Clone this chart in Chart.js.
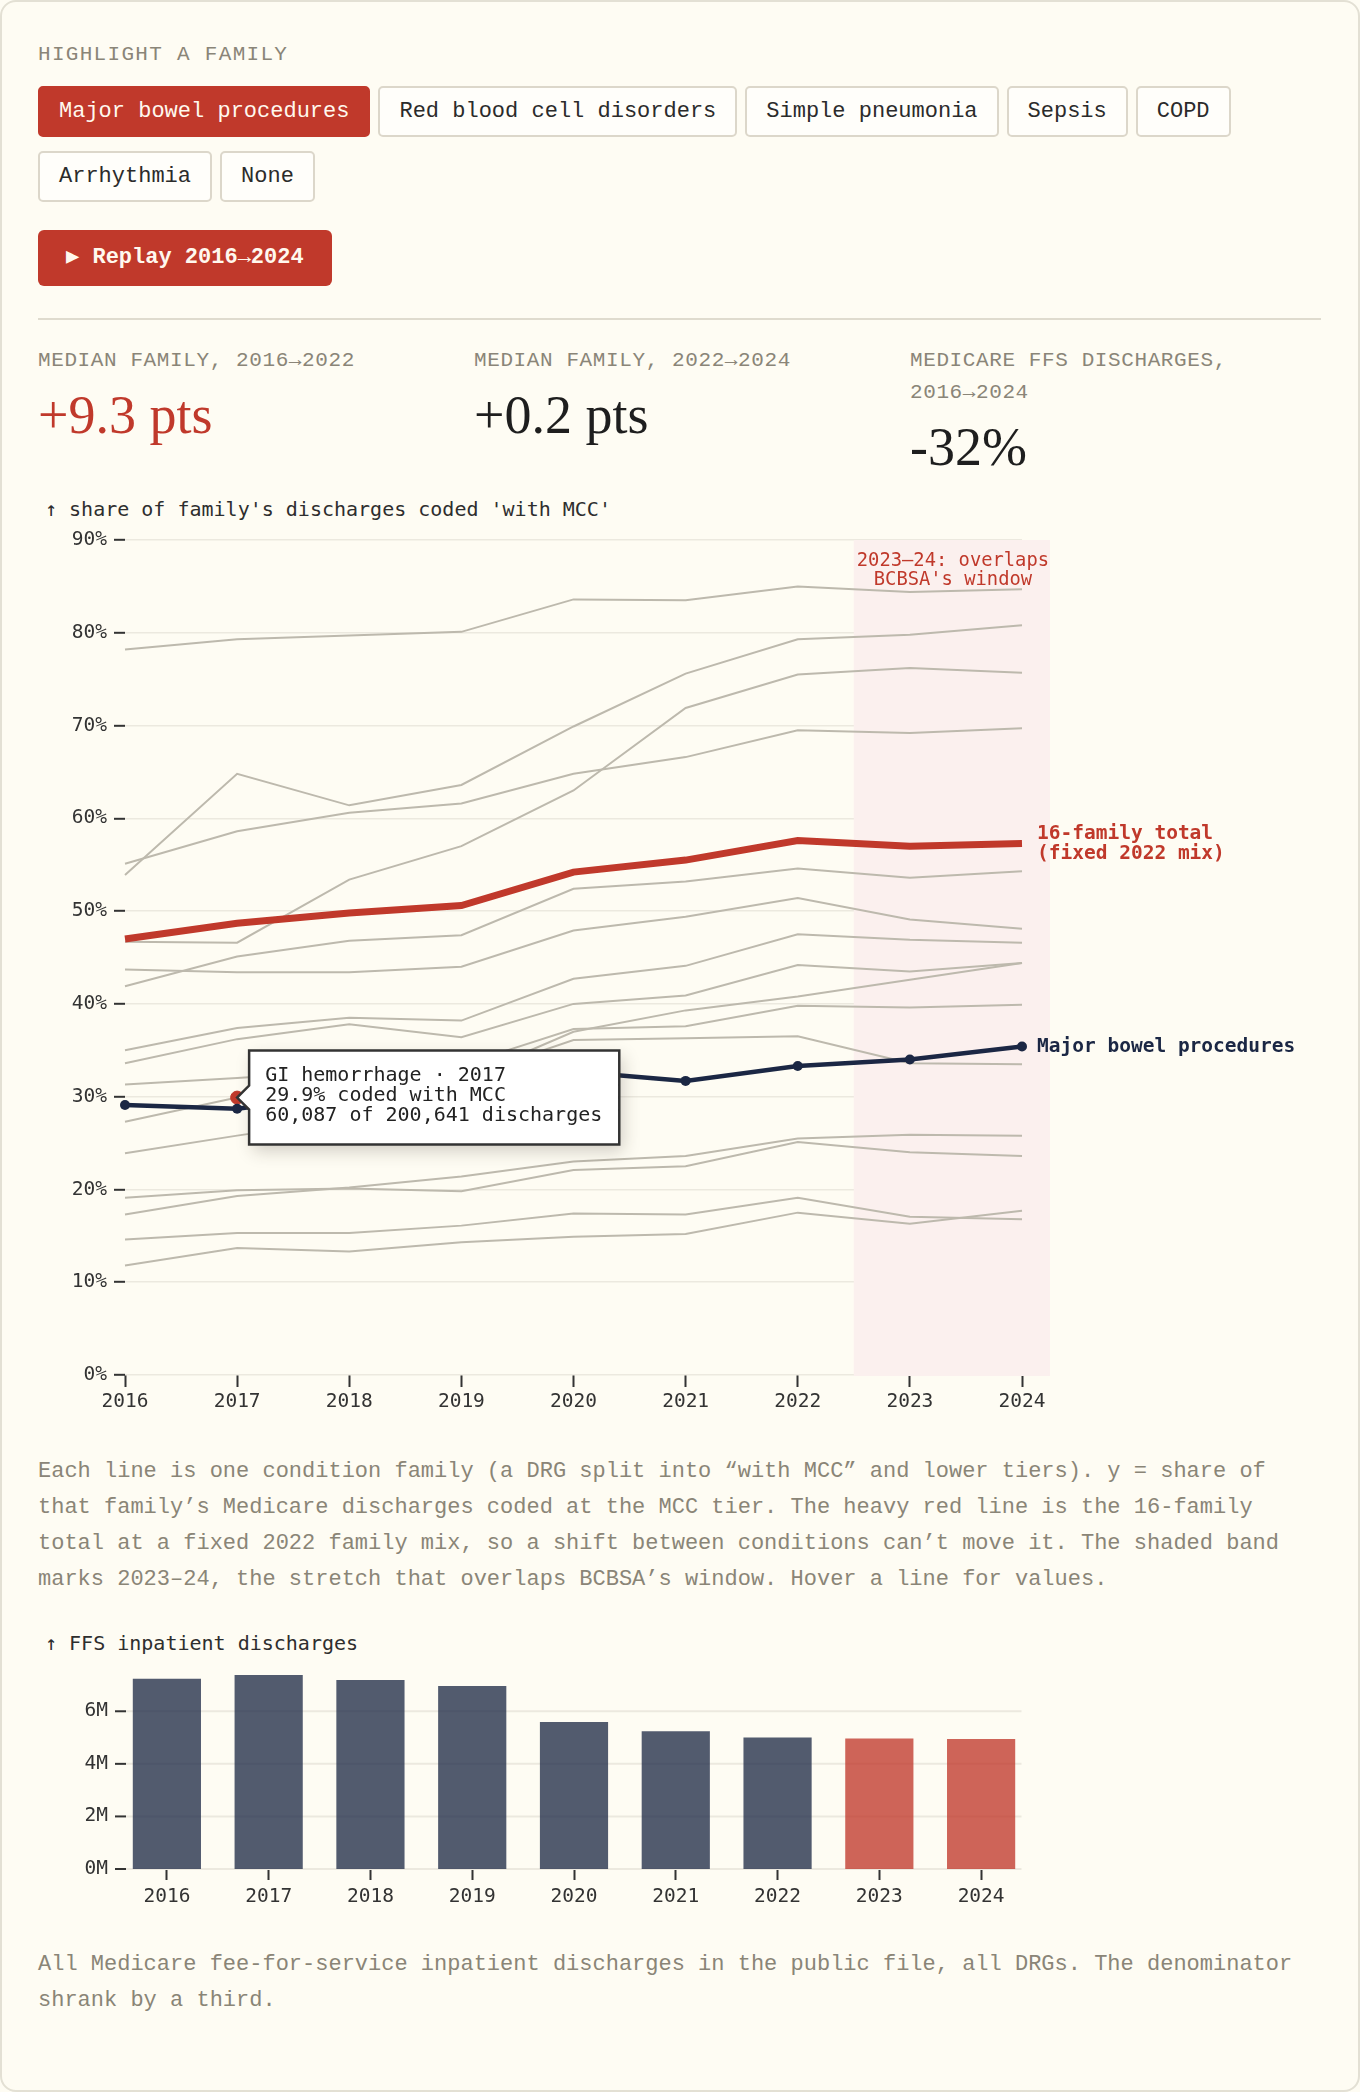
<!DOCTYPE html>
<html><head><meta charset="utf-8">
<script src="https://cdn.jsdelivr.net/npm/chart.js@4.4.1/dist/chart.umd.min.js"></script>
<style>
html,body{margin:0;padding:0;background:#fefcf3;}
body{width:1360px;height:2092px;position:relative;overflow:hidden;}
.card{position:absolute;left:0;top:0;width:1360px;height:2092px;box-sizing:border-box;border:2px solid #e3e0d4;border-radius:16px;background:#fefcf3;}
.abs{position:absolute;}
.kicker{font-family:"Liberation Mono",monospace;font-size:21px;letter-spacing:1.3px;color:#8a8578;line-height:28px;white-space:nowrap;}
.btns{display:flex;flex-wrap:wrap;column-gap:8px;row-gap:14px;width:1283px;}
.btn{font-family:"Liberation Mono",monospace;font-size:22px;line-height:27px;padding:10px 19px;border:2px solid #dcd7ca;border-radius:5px;background:#fffefa;color:#2b2b2b;white-space:nowrap;}
.btn.on{background:#c0392b;border-color:#c0392b;color:#fff8ee;}
.replay{font-family:"Liberation Mono",monospace;font-weight:bold;font-size:22px;line-height:56px;height:56px;padding:0 28px;background:#c0392b;color:#fff8ee;border-radius:6px;white-space:nowrap;}
.rule{height:2px;background:#dfdbce;}
.stat{width:411px;}
.stat .lab{font-family:"Liberation Mono",monospace;font-size:21px;letter-spacing:0.6px;line-height:32px;color:#8a8578;}
.stat .val{font-family:"Liberation Serif",serif;font-size:54px;line-height:60px;margin-top:8px;color:#1e1e1e;}
.stat .val.red{color:#c0392b;}
.ctitle{font-family:"DejaVu Sans Mono",monospace;font-size:20px;line-height:24px;color:#2e2e2e;white-space:nowrap;}
.para{font-family:"Liberation Mono",monospace;font-size:22px;line-height:36px;color:#8a8577;width:1283px;}
</style></head>
<body>
<div class="card"></div>
<div class="abs kicker" style="left:38px;top:41px;">HIGHLIGHT A FAMILY</div>
<div class="abs btns" id="btns" style="left:38px;top:86px;"></div>
<div class="abs replay" style="left:38px;top:230px;">▶ Replay 2016→2024</div>
<div class="abs rule" style="left:38px;top:318px;width:1283px;"></div>
<div class="abs stat" style="left:38px;top:345px;"><div class="lab">MEDIAN FAMILY, 2016→2022</div><div class="val red">+9.3 pts</div></div>
<div class="abs stat" style="left:474px;top:345px;"><div class="lab">MEDIAN FAMILY, 2022→2024</div><div class="val">+0.2 pts</div></div>
<div class="abs stat" style="left:910px;top:345px;"><div class="lab">MEDICARE FFS DISCHARGES, 2016→2024</div><div class="val">-32%</div></div>
<div class="abs ctitle" style="left:45px;top:497px;">↑ share of family's discharges coded 'with MCC'</div>
<canvas id="lines" class="abs" style="left:0;top:520px;width:1358px;height:900px;" width="1358" height="900"></canvas>
<div class="abs para" style="left:38px;top:1454px;">Each line is one condition family (a DRG split into “with MCC” and lower tiers). y = share of that family’s Medicare discharges coded at the MCC tier. The heavy red line is the 16-family total at a fixed 2022 family mix, so a shift between conditions can’t move it. The shaded band marks 2023–24, the stretch that overlaps BCBSA’s window. Hover a line for values.</div>
<div class="abs ctitle" style="left:45px;top:1631px;">↑ FFS inpatient discharges</div>
<canvas id="bars" class="abs" style="left:0;top:1655px;width:1358px;height:260px;" width="1358" height="260"></canvas>
<div class="abs para" style="left:38px;top:1947px;">All Medicare fee-for-service inpatient discharges in the public file, all DRGs. The denominator shrank by a third.</div>
<script>
// ---------- data ----------
const years = ['2016','2017','2018','2019','2020','2021','2022','2023','2024'];
const familyButtons = ['Major bowel procedures','Red blood cell disorders','Simple pneumonia','Sepsis','COPD','Arrhythmia','None'];
const highlighted = 'Major bowel procedures';
const windowYears = ['2023','2024'];

// share of family's discharges coded "with MCC" (%)
const majorBowel   = [29.1, 28.7, 30.2, 30.6, 32.7, 31.7, 33.3, 34.0, 35.4];
const totalFixed   = [47.0, 48.7, 49.8, 50.6, 54.2, 55.5, 57.6, 57.0, 57.3];
const giHemorrhage = [27.3, 29.9, 30.6, 31.8, 37.0, 39.3, 40.8, 42.6, 44.4];
const family01 = [78.2, 79.3, 79.7, 80.1, 83.6, 83.5, 85.0, 84.4, 84.7];
const family02 = [53.9, 64.8, 61.4, 63.6, 69.9, 75.6, 79.3, 79.8, 80.8];
const family03 = [55.1, 58.6, 60.6, 61.6, 64.8, 66.6, 69.5, 69.2, 69.7];
const family04 = [46.7, 46.6, 53.4, 57.0, 63.0, 71.9, 75.5, 76.2, 75.7];
const family05 = [41.9, 45.1, 46.8, 47.4, 52.4, 53.2, 54.6, 53.6, 54.3];
const family06 = [43.7, 43.4, 43.4, 44.0, 47.9, 49.4, 51.4, 49.1, 48.1];
const family07 = [35.0, 37.4, 38.5, 38.2, 42.7, 44.1, 47.5, 46.9, 46.6];
const family08 = [33.6, 36.2, 37.8, 36.4, 40.0, 40.9, 44.2, 43.5, 44.4];
const family09 = [31.3, 32.0, 32.8, 33.4, 37.3, 37.6, 39.8, 39.6, 39.9];
const family10 = [23.9, 25.8, 27.6, 32.0, 36.1, 36.3, 36.5, 33.6, 33.5];
const family11 = [17.3, 19.3, 20.2, 21.4, 23.0, 23.6, 25.5, 25.9, 25.8];
const family12 = [19.1, 19.9, 20.1, 19.8, 22.1, 22.5, 25.1, 24.0, 23.6];
const family13 = [14.6, 15.3, 15.3, 16.1, 17.4, 17.3, 19.1, 17.05, 16.8];
const family14 = [11.8, 13.7, 13.3, 14.3, 14.9, 15.2, 17.5, 16.3, 17.7];
const otherFamilies = [family01,family02,family03,family04,family05,family06,family07,family08,family09,family10,family11,family12,family13,family14];

// hovered point shown in the tooltip
const hoverFamily = 'GI hemorrhage';
const hoverYear = '2017';
const hoverMccCount = 60087;
const hoverDischarges = 200641;

// FFS inpatient discharges (millions)
const discharges = [7.24, 7.38, 7.19, 6.96, 5.59, 5.24, 5.00, 4.96, 4.95];
const dischargeTicks = [0, 2, 4, 6];

// ---------- buttons ----------
const bw = document.getElementById('btns');
familyButtons.forEach(n => { const d = document.createElement('div'); d.className = 'btn' + (n === highlighted ? ' on' : ''); d.textContent = n; bw.appendChild(d); });

// ---------- chart defaults ----------
Chart.defaults.font.family = '"DejaVu Sans Mono", monospace';
Chart.defaults.font.size = 19.5;
Chart.defaults.color = '#333';

const RED = '#c0392b', NAVY = '#1b2744', GRAY = '#bdb9ad';

const datasets = [
  { label: highlighted, data: majorBowel, borderColor: NAVY, backgroundColor: NAVY, borderWidth: 4.5, pointRadius: 5, pointBackgroundColor: NAVY, pointBorderWidth: 0, order: 0 },
  { label: '16-family total', data: totalFixed, borderColor: RED, borderWidth: 7, pointRadius: 0, order: 1 },
  { label: hoverFamily, data: giHemorrhage, borderColor: GRAY, borderWidth: 2, pointRadius: 0, pointHoverRadius: 6.5, pointHoverBackgroundColor: RED, pointHoverBorderColor: RED, pointHoverBorderWidth: 1, order: 2 }
];
otherFamilies.forEach((d, i) => datasets.push({ label: 'Family ' + (i + 1), data: d, borderColor: GRAY, borderWidth: 2, pointRadius: 0, order: 2 }));

const bandPlugin = {
  id: 'band',
  beforeDatasetsDraw(chart) {
    const { ctx, chartArea: a, scales: { x } } = chart;
    const x0 = x.getPixelForValue(years.indexOf(windowYears[0]) - 0.5);
    const x1 = x.getPixelForValue(years.length - 1 + 0.25);
    ctx.save();
    ctx.fillStyle = '#fbf0ee';
    ctx.fillRect(x0, a.top, x1 - x0, a.bottom - a.top + 1);
    ctx.restore();
  },
  afterDatasetsDraw(chart) {
    const { ctx, chartArea: a, scales: { x } } = chart;
    const x0 = x.getPixelForValue(years.indexOf(windowYears[0]) - 0.5);
    const x1 = x.getPixelForValue(years.length - 1 + 0.25);
    ctx.save();
    ctx.fillStyle = RED;
    ctx.font = '18.8px "DejaVu Sans Mono", monospace';
    ctx.textAlign = 'center'; ctx.textBaseline = 'middle';
    const cx = (x0 + x1) / 2 + 1;
    ctx.fillText('2023–24: overlaps', cx, a.top + 21);
    ctx.fillText("BCBSA's window", cx, a.top + 40);
    // end labels
    const last = years.length - 1;
    const tp = chart.getDatasetMeta(1).data[last];
    const np = chart.getDatasetMeta(0).data[last];
    ctx.textAlign = 'left';
    ctx.font = 'bold 19.5px "DejaVu Sans Mono", monospace';
    ctx.fillText('16-family total', a.right + 15, tp.y - 9);
    ctx.fillText('(fixed 2022 mix)', a.right + 15, tp.y + 11);
    ctx.fillStyle = NAVY;
    ctx.fillText(highlighted, a.right + 15, np.y);
    ctx.restore();
  },
  beforeTooltipDraw(chart, args) {
    const t = args.tooltip, ctx = chart.ctx;
    ctx.save();
    ctx.shadowColor = 'rgba(50,40,30,0.22)';
    ctx.shadowBlur = 16; ctx.shadowOffsetX = 4; ctx.shadowOffsetY = 6;
    ctx.fillStyle = '#fff';
    ctx.fillRect(t.x, t.y, t.width, t.height);
    ctx.restore();
  }
};

const lineChart = new Chart(document.getElementById('lines'), {
  type: 'line',
  data: { labels: years, datasets },
  plugins: [bandPlugin],
  options: {
    responsive: false, animation: false, events: [],
    layout: { padding: { left: 0, right: 336, top: 20, bottom: 0 }, autoPadding: false },
    plugins: {
      legend: { display: false },
      tooltip: {
        enabled: true, xAlign: 'left', yAlign: 'center', caretSize: 12, caretPadding: 0, cornerRadius: 0,
        backgroundColor: '#ffffff', borderColor: '#333333', borderWidth: 2.5, displayColors: false,
        titleColor: '#222', bodyColor: '#222',
        titleFont: { family: '"DejaVu Sans Mono", monospace', size: 20, weight: 'normal', lineHeight: 1 },
        bodyFont: { family: '"DejaVu Sans Mono", monospace', size: 20, weight: 'normal', lineHeight: 1 },
        titleMarginBottom: 0, titleSpacing: 0, bodySpacing: 0,
        padding: { top: 15, right: 17, bottom: 19, left: 16 },
        filter: item => item.dataset.label === hoverFamily,
        callbacks: {
          title: items => items.length ? items[0].dataset.label + ' · ' + items[0].label : '',
          label: item => [
            item.parsed.y.toFixed(1) + '% coded with MCC',
            hoverMccCount.toLocaleString('en-US') + ' of ' + hoverDischarges.toLocaleString('en-US') + ' discharges'
          ]
        }
      }
    },
    scales: {
      x: {
        offset: false,
        grid: { drawOnChartArea: false, tickLength: 12, tickWidth: 2, tickColor: '#333' },
        border: { display: false },
        ticks: { padding: 3, autoSkip: false, maxRotation: 0, color: '#333' },
        afterFit: s => { s.height = 45; }
      },
      y: {
        min: 0, max: 90,
        grid: { color: '#ece9df', lineWidth: 1.6, tickLength: 11, tickWidth: 2, tickColor: '#333' },
        border: { display: false },
        ticks: { stepSize: 10, padding: 7, color: '#333', callback: v => v + '%' },
        afterFit: s => { s.width = 125; }
      }
    }
  }
});
const gi = datasets.findIndex(d => d.label === hoverFamily);
const hi = years.indexOf(hoverYear);
const hp = lineChart.getDatasetMeta(gi).data[hi];
lineChart.setActiveElements([{ datasetIndex: gi, index: hi }]);
lineChart.tooltip.setActiveElements([{ datasetIndex: gi, index: hi }], { x: hp.x, y: hp.y });
lineChart.update();

// ---------- bar chart ----------
const barGrid = {
  id: 'barGrid',
  beforeDatasetsDraw(chart) {
    const { ctx, chartArea: a, scales: { y } } = chart;
    const left = a.left + 10, right = a.right - 10.5;
    ctx.save();
    y.ticks.forEach(t => {
      const py = y.getPixelForValue(t.value);
      ctx.strokeStyle = '#ece9df'; ctx.lineWidth = 2;
      ctx.beginPath(); ctx.moveTo(left, py); ctx.lineTo(right, py); ctx.stroke();
      ctx.strokeStyle = '#333';
      ctx.beginPath(); ctx.moveTo(left - 11, py); ctx.lineTo(left, py); ctx.stroke();
    });
    ctx.restore();
  }
};
new Chart(document.getElementById('bars'), {
  type: 'bar',
  data: { labels: years, datasets: [{
    data: discharges,
    backgroundColor: years.map(y => windowYears.includes(y) ? 'rgba(192,57,43,0.78)' : 'rgba(27,39,68,0.76)'),
    borderWidth: 0, categoryPercentage: 1, barPercentage: 0.67
  }] },
  plugins: [barGrid],
  options: {
    responsive: false, animation: false, events: [],
    layout: { padding: { left: 0, right: 326, top: 20, bottom: 0 }, autoPadding: false },
    plugins: { legend: { display: false }, tooltip: { enabled: false } },
    scales: {
      x: {
        grid: { offset: false, drawOnChartArea: false, tickLength: 11, tickWidth: 2, tickColor: '#333' },
        border: { display: false },
        ticks: { padding: 5, color: '#333', autoSkip: false, maxRotation: 0 },
        afterFit: s => { s.height = 46; }
      },
      y: {
        min: 0, max: Math.max(...discharges),
        grid: { display: false, drawTicks: false },
        border: { display: false },
        ticks: { stepSize: 2, padding: 8, color: '#333', callback: v => v + 'M' },
        afterBuildTicks: s => { s.ticks = dischargeTicks.map(v => ({ value: v })); },
        afterFit: s => { s.width = 116; }
      }
    }
  }
});
</script>
</body></html>
